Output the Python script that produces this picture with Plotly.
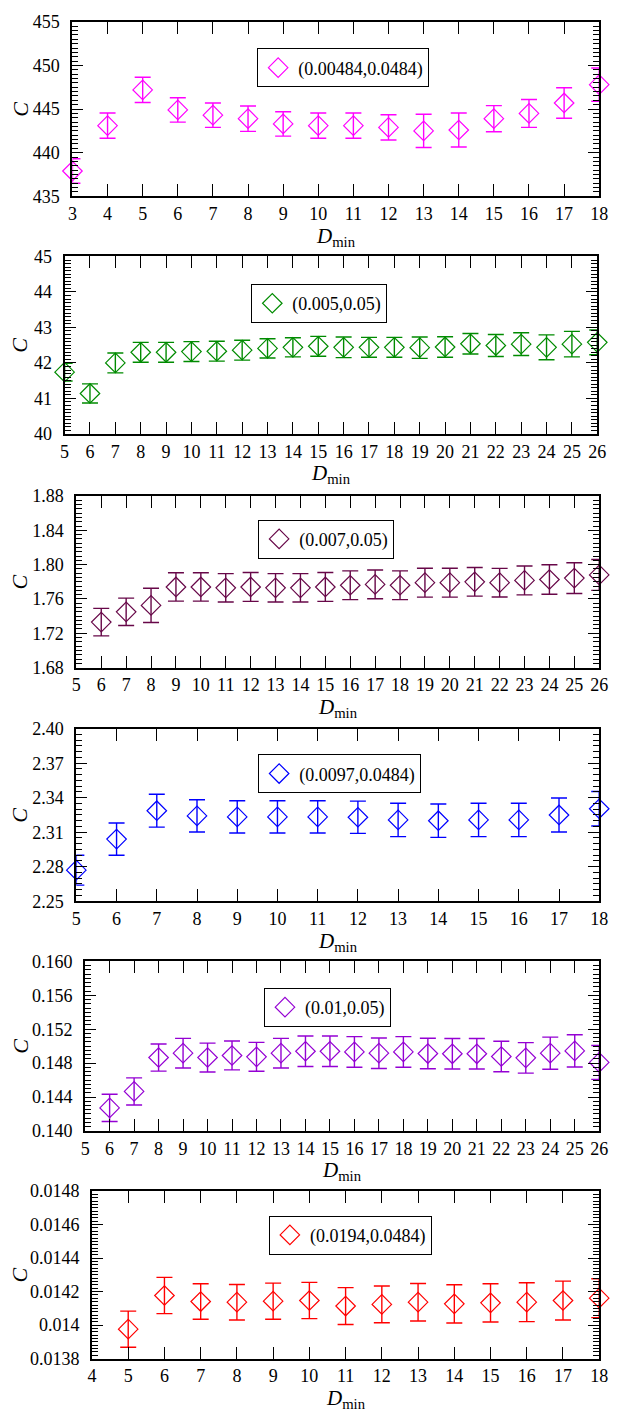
import plotly.graph_objects as go

# ---- data: C versus D_min for six parameter pairs ----
d_min_a = list(range(3, 19))
c_a = [437.9, 443.1, 447.2, 444.9, 444.3, 443.9, 443.3, 443.1,
       443.1, 442.9, 442.5, 442.6, 443.9, 444.5, 445.7, 447.8]
err_a = [1.4, 1.45, 1.45, 1.4, 1.4, 1.45, 1.4, 1.45,
         1.45, 1.45, 1.9, 1.95, 1.5, 1.6, 1.75, 1.9]

d_min_b = list(range(5, 27))
c_b = [41.74, 41.14, 42.0, 42.3, 42.3, 42.32, 42.33, 42.36, 42.41, 42.44, 42.47,
       42.44, 42.44, 42.44, 42.43, 42.45, 42.54, 42.49, 42.53, 42.44, 42.53, 42.58]
err_b = [0.25, 0.27, 0.28, 0.28, 0.28, 0.28, 0.28, 0.28, 0.27, 0.27, 0.28,
         0.29, 0.28, 0.28, 0.3, 0.29, 0.29, 0.31, 0.32, 0.35, 0.36, 0.35]

d_min_c = list(range(6, 27))
c_c = [1.733, 1.745, 1.7525, 1.774, 1.774, 1.773, 1.774, 1.773, 1.773, 1.774, 1.776,
       1.777, 1.776, 1.779, 1.779, 1.780, 1.779, 1.7816, 1.7827, 1.7843, 1.788]
err_c = [0.016, 0.016, 0.02, 0.0165, 0.0165, 0.0165, 0.0168, 0.0165, 0.0165, 0.0168, 0.0168,
         0.0167, 0.0168, 0.0168, 0.0168, 0.0167, 0.0167, 0.0168, 0.0172, 0.018, 0.018]

d_min_d = list(range(5, 19))
c_d = [2.277, 2.304, 2.3287, 2.3242, 2.3233, 2.3233, 2.3233,
       2.323, 2.3207, 2.320, 2.3207, 2.3207, 2.325, 2.3304]
err_d = [0.013, 0.014, 0.0143, 0.014, 0.014, 0.014, 0.014,
         0.014, 0.0145, 0.0145, 0.0145, 0.0145, 0.0148, 0.015]

d_min_e = list(range(6, 27))
c_e = [0.14272, 0.14466, 0.14866, 0.14917, 0.14866, 0.1489, 0.14874, 0.14917, 0.1494, 0.1494, 0.14932,
       0.14917, 0.14932, 0.14913, 0.1491, 0.1491, 0.14878, 0.14862, 0.14917, 0.14944, 0.14808]
err_e = [0.0016, 0.0016, 0.0016, 0.00175, 0.0017, 0.0017, 0.0017, 0.00175, 0.0018, 0.0018, 0.0018,
         0.0018, 0.0018, 0.0018, 0.0018, 0.0018, 0.0018, 0.0018, 0.0019, 0.0019, 0.002]

d_min_f = list(range(5, 19))
c_f = [0.013976, 0.014177, 0.014141, 0.014137, 0.014143, 0.014147, 0.014114,
       0.014124, 0.014137, 0.014127, 0.014133, 0.014137, 0.014147, 0.014161]
err_f = [0.000108, 0.000108, 0.000106, 0.000106, 0.000108, 0.000108, 0.00011,
         0.00011, 0.000112, 0.000114, 0.000114, 0.000116, 0.000116, 0.000116]

labels = ["(0.00484,0.0484)", "(0.005,0.05)", "(0.007,0.05)",
          "(0.0097,0.0484)", "(0.01,0.05)", "(0.0194,0.0484)"]
colors = ["#ff00ff", "#008b00", "#670748", "#0000ff", "#9400d3", "#ff0000"]

xs = [d_min_a, d_min_b, d_min_c, d_min_d, d_min_e, d_min_f]
ys = [c_a, c_b, c_c, c_d, c_e, c_f]
es = [err_a, err_b, err_c, err_d, err_e, err_f]

x_ranges = [(3, 18), (5, 26), (5, 26), (5, 18), (5, 26), (4, 18)]
y_ranges = [(435, 455), (40, 45), (1.68, 1.88), (2.25, 2.40), (0.140, 0.160), (0.0138, 0.0148)]
y_major = [5, 1, 0.04, 0.03, 0.004, 0.0002]
y_minor = [0.5, 0.1, 0.005, 0.005, 0.0005, 0.00002]
y_fmt = ["d", "d", ".2f", ".2f", ".3f", ".4~f"]

# ---- page geometry (pixels) ----
W, H = 618, 1416
frames = [  # left, right, top, bottom
    (69, 608, 12, 189),
    (61, 606, 250, 430),
    (73, 608, 493, 667),
    (73, 608, 729, 904),
    (82, 608, 965, 1137),
    (89, 608, 1198, 1368),
]
legend_pos = [(258, 39), (252, 278), (259, 517), (259, 755), (265, 992), (270, 1223)]

SERIF = "Liberation Serif"

fig = go.Figure()
layout = dict(
    width=W, height=H,
    margin=dict(l=0, r=0, t=0, b=0),
    paper_bgcolor="white", plot_bgcolor="white",
    showlegend=True,
    font=dict(family=SERIF, size=18, color="black"),
)
annotations = []

for i in range(6):
    n = "" if i == 0 else str(i + 1)
    l, r, t, b = frames[i]
    fig.add_trace(go.Scatter(
        x=xs[i], y=ys[i], mode="markers", name=labels[i],
        xaxis="x" + n, yaxis="y" + n,
        legend="legend" + n,
        cliponaxis=False,
        marker=dict(symbol="diamond-open", size=15, color=colors[i],
                    line=dict(width=1.2, color=colors[i])),
        error_y=dict(type="data", array=es[i], visible=True,
                     color=colors[i], thickness=1.4, width=8),
    ))
    common_font = dict(family=SERIF, size=18, color="black")
    layout["xaxis" + n] = dict(
        domain=[l / W, r / W], anchor="y" + n,
        range=list(x_ranges[i]), tickmode="linear", tick0=x_ranges[i][0], dtick=1,
        ticks="inside", ticklen=12, tickwidth=1.3, tickcolor="black",
        showline=True, linewidth=2, linecolor="black", mirror="allticks",
        showgrid=False, zeroline=False, tickfont=common_font,
        ticklabelstandoff=0,
    )
    layout["yaxis" + n] = dict(
        domain=[1 - b / H, 1 - t / H], anchor="x" + n,
        range=list(y_ranges[i]), tickmode="linear", tick0=y_ranges[i][0], dtick=y_major[i],
        tickformat=y_fmt[i],
        ticks="inside", ticklen=11, tickwidth=1.3, tickcolor="black",
        minor=dict(dtick=y_minor[i], tick0=y_ranges[i][0], ticks="inside",
                   ticklen=6, tickwidth=1, tickcolor="black", showgrid=False),
        showline=True, linewidth=2, linecolor="black", mirror="allticks",
        showgrid=False, zeroline=False, tickfont=common_font,
        ticklabelstandoff=7,
    )
    lx, ly = legend_pos[i]
    layout["legend" + n] = dict(
        x=lx / W, y=1 - ly / H, xanchor="left", yanchor="top",
        bgcolor="white", bordercolor="black", borderwidth=1,
        font=dict(family=SERIF, size=18, color="black"),
        itemsizing="trace",
    )
    # axis titles
    annotations.append(dict(
        text="<i>C</i>", xref="paper", yref="paper",
        x=15 / W, y=1 - (t + b) / 2 / H, showarrow=False,
        textangle=-90, font=dict(family=SERIF, size=22, color="black"),
        xanchor="center", yanchor="middle",
    ))
    annotations.append(dict(
        text="<i>D</i><sub>min</sub>", xref="paper", yref="paper",
        x=(l + r) / 2 / W, y=1 - (b + 41) / H, showarrow=False,
        font=dict(family=SERIF, size=21, color="black"),
        xanchor="center", yanchor="middle",
    ))

layout["annotations"] = annotations
fig.update_layout(**layout)
fig.write_html("out.html")
